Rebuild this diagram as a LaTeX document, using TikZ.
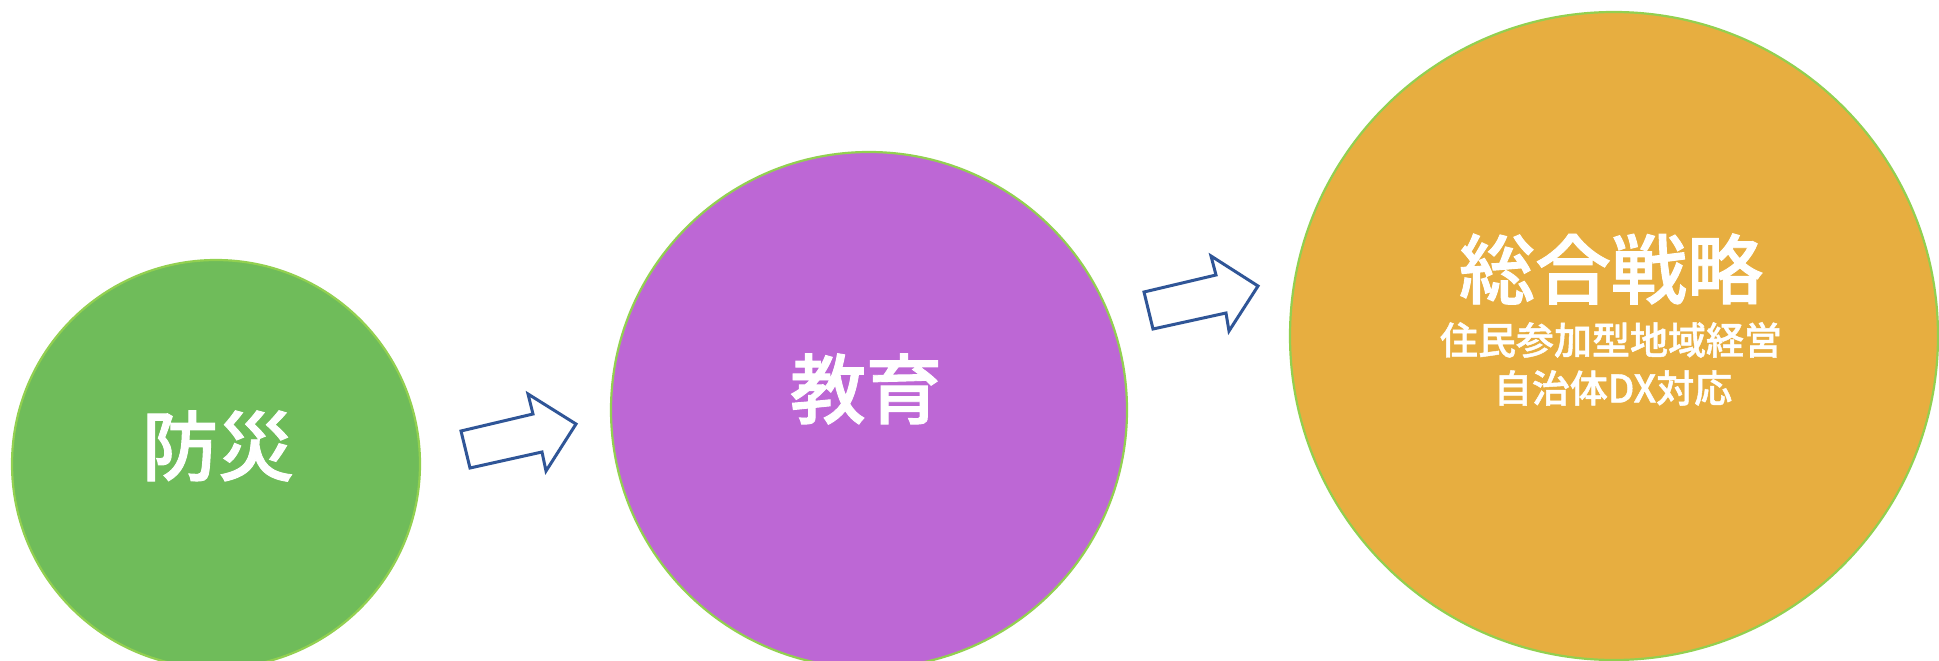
\documentclass[tikz,border=0pt]{standalone}
\usepackage{fontspec}
\newfontfamily\cjk[FakeBold=1.2]{Noto Sans CJK JP Medium}
\definecolor{cgreen}{HTML}{6FBC5A}
\definecolor{cpurple}{HTML}{BD67D5}
\definecolor{corange}{HTML}{E7AE40}
\definecolor{cedge}{HTML}{92D050}
\definecolor{carrow}{HTML}{2F5597}
\tikzset{
  bubble/.style={circle, draw=cedge, line width=2.2pt, inner sep=0pt},
  bigtext/.style={text=white, inner sep=0pt, font=\cjk\fontsize{76}{80}\selectfont},
  smalltext/.style={text=white, inner sep=0pt, font=\cjk\fontsize{38}{42}\selectfont},
  blockarrow/.style={draw=carrow, fill=white, line width=3pt, line join=miter}
}
\begin{document}
\begin{tikzpicture}[x=1pt,y=-1pt]
\clip (0,0) rectangle (1939,661);
\fill[white] (0,0) rectangle (1939,661);
% circles
\node[bubble, fill=cgreen, minimum size=408pt] (g) at (216,464) {};
\node[bubble, fill=cpurple, minimum size=516pt] (p) at (869,410) {};
\node[bubble, fill=corange, minimum size=648pt] (o) at (1614,336) {};
% texts
\node[bigtext] (tg) at (218,446) {防災};
\node[bigtext] (tp) at (866,389) {教育};
\node[bigtext] (to) at (1611,269) {総合戦略};
\node[smalltext] (to2) at (1611,340) {住民参加型地域経営};
\node[smalltext] (to3) at (1613,388) {自治体DX対応};
% block arrows
\draw[blockarrow] (461,431) -- (533,414) -- (528,394) -- (576,424) -- (546,471) -- (542,452) -- (470,468) -- cycle;
\draw[blockarrow] (1144,292) -- (1216,275) -- (1211,256) -- (1258,286) -- (1229,331) -- (1226,313) -- (1153,329) -- cycle;
\end{tikzpicture}
\end{document}
